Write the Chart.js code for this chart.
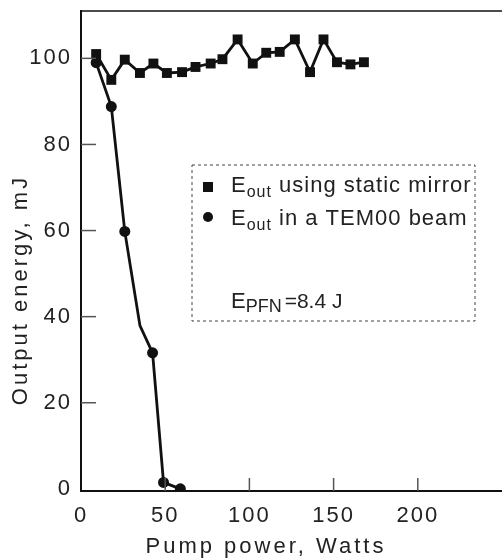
<!DOCTYPE html>
<html>
<head>
<meta charset="utf-8">
<script src="https://cdn.jsdelivr.net/npm/chart.js@4"></script>
<style>
  html, body { margin: 0; padding: 0; background: #fff; overflow: hidden; }
  #wrap { width: 509px; height: 558px; position: relative; }
</style>
</head>
<body>
<div id="wrap"><canvas id="energyChart"></canvas></div>
<script>
// values
const powerStatic = [9, 18, 26, 35, 43, 51, 60, 68, 77, 84, 93, 102, 110, 118, 127, 136, 144, 152, 160, 168];
const energyStatic = [101, 95, 99.7, 96.6, 98.8, 96.6, 96.8, 98, 98.8, 99.8, 104.4, 98.8, 101.3, 101.5, 104.4, 96.8, 104.4, 99.1, 98.6, 99.1];

const powerTem = [9, 18, 26, 35, 42.5, 49, 59];
const energyTem = [99, 88.8, 59.8, 37.9, 31.6, 1.5, 0];
const temMarker = [5.5, 5.5, 5.5, 0, 5.5, 5.5, 5.5];

const xTicks = [0, 50, 100, 150, 200];
const yTicks = [0, 20, 40, 60, 80, 100];

const FONT = '"Liberation Sans", Arial, sans-serif';
const INK = '#111';
const TEXT = '#222';

const toPoints = (xs, ys) => xs.map((x, i) => ({ x: x, y: ys[i] }));

// the scanned lettering is set wide, so space the glyphs out a bit
const spacingPlugin = {
  id: 'spacing',
  beforeLayout(chart) {
    chart.ctx.letterSpacing = '2px';
  },
  beforeDraw(chart) {
    chart.ctx.letterSpacing = '2px';
  },
};

// inner tick marks, top border, axis titles and the boxed legend
const framePlugin = {
  id: 'frame',
  afterDraw(chart) {
    const ctx = chart.ctx;
    const area = chart.chartArea;
    const xs = chart.scales.x;
    const ys = chart.scales.y;
    ctx.save();

    // top border
    ctx.strokeStyle = INK;
    ctx.lineWidth = 1.5;
    ctx.beginPath();
    ctx.moveTo(area.left, area.top);
    ctx.lineTo(area.right, area.top);
    ctx.stroke();

    // ticks pointing inward
    ctx.strokeStyle = '#555';
    ctx.lineWidth = 1.5;
    yTicks.forEach((v) => {
      if (v === 0) return;
      const py = ys.getPixelForValue(v);
      ctx.beginPath();
      ctx.moveTo(area.left, py);
      ctx.lineTo(area.left + 15, py);
      ctx.stroke();
    });
    xTicks.forEach((v) => {
      if (v === 0) return;
      const px = xs.getPixelForValue(v);
      ctx.beginPath();
      ctx.moveTo(px, area.bottom);
      ctx.lineTo(px, area.bottom - 13);
      ctx.stroke();
    });

    // axis titles
    ctx.fillStyle = TEXT;
    ctx.font = '22px ' + FONT;
    ctx.letterSpacing = '3px';
    ctx.textAlign = 'center';
    ctx.textBaseline = 'middle';
    ctx.fillText('Pump power, Watts', 266, 547);
    ctx.save();
    ctx.translate(21, 290);
    ctx.rotate(-Math.PI / 2);
    ctx.fillText('Output energy, mJ', 0, 0);
    ctx.restore();

    // legend box
    const bx = 192, by = 165, bw = 283, bh = 156;
    ctx.setLineDash([3, 3]);
    ctx.strokeStyle = '#444';
    ctx.lineWidth = 1;
    ctx.strokeRect(bx, by, bw, bh);
    ctx.setLineDash([]);

    ctx.fillStyle = INK;
    ctx.fillRect(203, 182, 10, 10);
    ctx.beginPath();
    ctx.arc(208, 217, 5, 0, Math.PI * 2);
    ctx.fill();

    ctx.fillStyle = TEXT;
    ctx.textAlign = 'left';
    ctx.textBaseline = 'alphabetic';
    const sub = (x, y, size, main, low, lowSize, drop, gap, rest, restSize, ls) => {
      ctx.letterSpacing = ls;
      ctx.font = size + 'px ' + FONT;
      ctx.fillText(main, x, y);
      let cx = x + ctx.measureText(main).width;
      ctx.font = lowSize + 'px ' + FONT;
      ctx.fillText(low, cx, y + drop);
      cx += ctx.measureText(low).width + gap;
      ctx.font = restSize + 'px ' + FONT;
      ctx.fillText(rest, cx, y);
    };
    sub(231, 192, 22, 'E', 'out', 16, 5, 0, ' using static mirror', 22, '1px');
    sub(231, 225, 22, 'E', 'out', 16, 5, 0, ' in a TEM00 beam', 22, '1px');
    sub(231, 308, 22, 'E', 'PFN', 18, 4, 3, '=8.4 J', 21, '0px');

    ctx.restore();
  },
};

const ctx = document.getElementById('energyChart').getContext('2d');
new Chart(ctx, {
  type: 'scatter',
  data: {
    datasets: [
      {
        label: 'Eout using static mirror',
        data: toPoints(powerStatic, energyStatic),
        showLine: true,
        borderColor: INK,
        backgroundColor: INK,
        borderWidth: 2.8,
        pointStyle: 'rect',
        pointRadius: 7,
        pointBorderWidth: 0,
      },
      {
        label: 'Eout in a TEM00 beam',
        data: toPoints(powerTem, energyTem),
        showLine: true,
        borderColor: INK,
        backgroundColor: INK,
        borderWidth: 2.8,
        pointStyle: 'circle',
        pointRadius: temMarker,
        pointBorderWidth: 0,
      },
    ],
  },
  options: {
    responsive: true,
    maintainAspectRatio: false,
    animation: false,
    layout: { padding: { top: 11, right: 0, left: 0, bottom: 0 } },
    plugins: {
      legend: { display: false },
      tooltip: { enabled: false },
    },
    scales: {
      x: {
        type: 'linear',
        min: 0,
        max: 250,
        afterBuildTicks: (scale) => {
          scale.ticks = xTicks.map((v) => ({ value: v }));
        },
        afterFit: (scale) => {
          scale.height = 67;
          scale.paddingLeft = 0;
          scale.paddingRight = 0;
        },
        grid: { display: false, drawTicks: false, tickLength: 0 },
        border: { display: true, color: INK, width: 2 },
        ticks: {
          color: TEXT,
          font: { family: FONT, size: 22 },
          padding: 12,
          maxRotation: 0,
        },
      },
      y: {
        min: -0.5,
        max: 111,
        afterBuildTicks: (scale) => {
          scale.ticks = yTicks.map((v) => ({ value: v }));
        },
        afterFit: (scale) => {
          scale.width = 81;
          scale.paddingTop = 0;
          scale.paddingBottom = 0;
        },
        grid: { display: false, drawTicks: false, tickLength: 0 },
        border: { display: true, color: INK, width: 2 },
        ticks: {
          color: TEXT,
          font: { family: FONT, size: 22 },
          padding: 9,
        },
      },
    },
  },
  plugins: [spacingPlugin, framePlugin],
});
</script>
</body>
</html>
